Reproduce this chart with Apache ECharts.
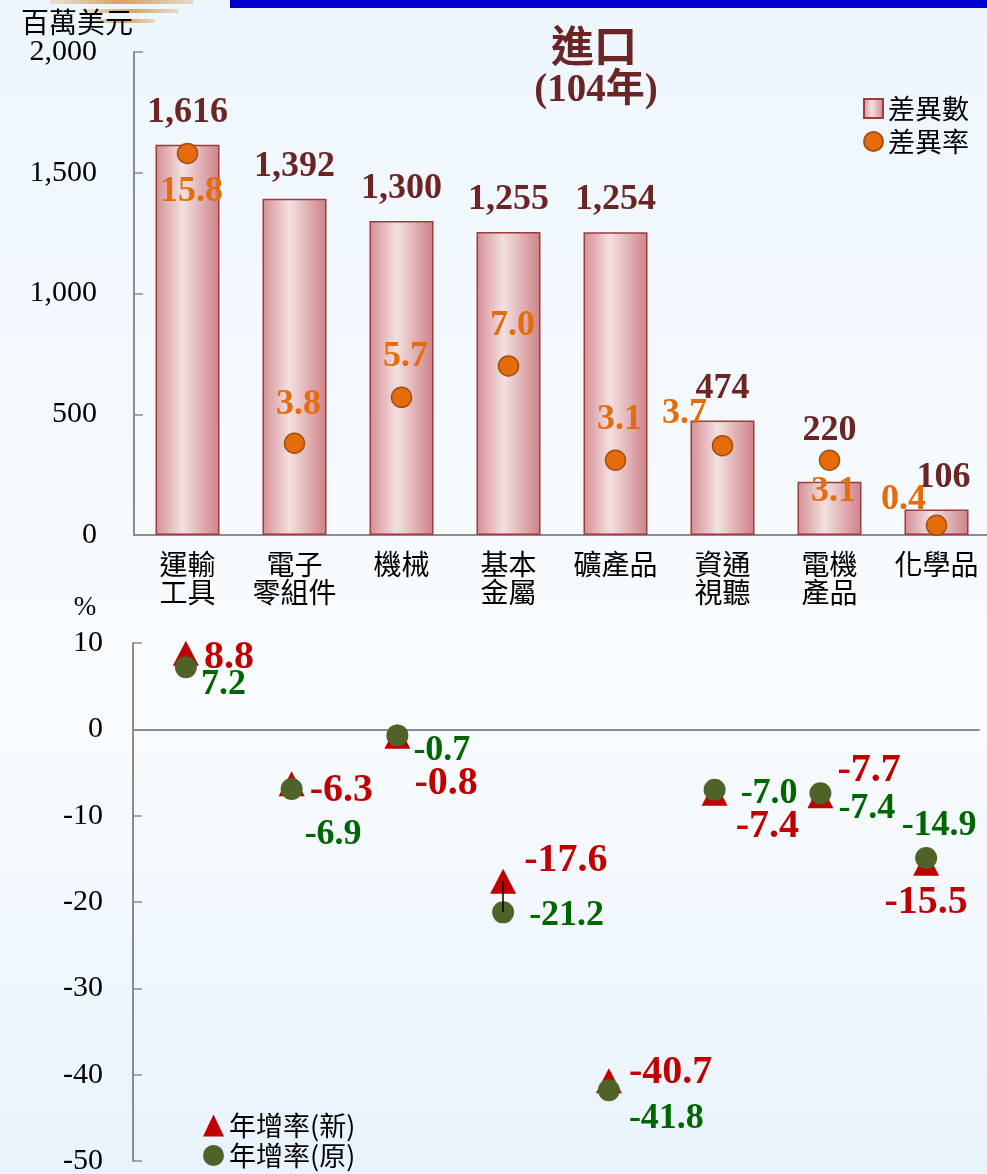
<!DOCTYPE html>
<html>
<head>
<meta charset="utf-8">
<title>進口 (104年)</title>
<script src="https://cdn.jsdelivr.net/npm/echarts@6/dist/echarts.min.js"></script>
<style>
  html, body { margin: 0; padding: 0; }
  #main { width: 987px; height: 1174px; }
</style>
</head>
<body>
<div id="main"></div>
<script>
// 產品類別
var categories = ['運輸\n工具', '電子\n零組件', '機械', '基本\n金屬', '礦產品', '資通\n視聽', '電機\n產品', '化學品'];
// 差異數 (百萬美元)
var diffAmount = [1616, 1392, 1300, 1255, 1254, 474, 220, 106];
// 差異率 (%)
var diffRate = [15.8, 3.8, 5.7, 7.0, 3.1, 3.7, 3.1, 0.4];
// 年增率(新) / 年增率(原) (%)
var growthNew = [8.8, -6.3, -0.8, -17.6, -40.7, -7.4, -7.7, -15.5];
var growthOld = [7.2, -6.9, -0.7, -21.2, -41.8, -7.0, -7.4, -14.9];

// 標籤位置微調 [dx, dy]，相對於點的中心
var rateLabelPos = [[4, 38], [4, -39], [4, -41], [4, -40], [4, -40], [-38, -32], [4, 32], [-33, -26]];
var newLabelPos = [[18, 4], [18, 7], [17, 47], [21, -21], [20, -8], [21, 33], [17, -25], [0, 40]];
var oldLabelPos = [[15, 18], [13, 46], [16, 15], [26, 3], [20, 28], [26, 4], [18, 15], [13, -32]];

var serif = "'Liberation Serif', 'Noto Sans CJK TC', serif";
var cjk = "'Noto Sans CJK TC', sans-serif";
var axisGray = '#8c8c8c';

var chart = echarts.init(document.getElementById('main'));

// 散點標籤：最後一個點與差異率置中，其餘靠左
function pointLabels(values, pos, color, size, centered) {
    return values.map(function (v, i) {
        return {
            value: v,
            label: {
                show: true,
                position: 'inside',
                align: (centered || i === values.length - 1) ? 'center' : 'left',
                verticalAlign: 'middle',
                offset: pos[i],
                color: color,
                fontSize: size,
                fontWeight: 'bold',
                fontFamily: serif,
                formatter: function (p) { return p.value.toFixed(1); }
            }
        };
    });
}

var barData = diffAmount.map(function (v, i) {
    var item = { value: v };
    if (i === 6) item.label = { offset: [0, -19] };
    if (i === 7) item.label = { offset: [7, 0] };
    return item;
});

var barGradient = new echarts.graphic.LinearGradient(0, 0, 1, 0, [
    { offset: 0, color: '#d48e95' },
    { offset: 0.42, color: '#f4e0e2' },
    { offset: 1, color: '#cd8287' }
]);

var stripe = function () {
    return new echarts.graphic.LinearGradient(0, 0, 1, 0, [
        { offset: 0, color: 'rgba(214,165,100,0.25)' },
        { offset: 0.5, color: '#d6a262' },
        { offset: 1, color: 'rgba(214,165,100,0.35)' }
    ]);
};

var option = {
    backgroundColor: new echarts.graphic.LinearGradient(0, 0, 0, 1, [
        { offset: 0, color: '#eef6fd' },
        { offset: 0.6, color: '#f9fcfe' },
        { offset: 1, color: '#e9f3fc' }
    ]),
    animation: false,
    graphic: [
        { type: 'rect', shape: { x: 230, y: 0, width: 757, height: 8 }, style: { fill: '#0000cc' } },
        { type: 'rect', shape: { x: 50, y: 0, width: 143, height: 4 }, style: { fill: stripe() } },
        { type: 'rect', shape: { x: 82, y: 9, width: 96, height: 4 }, style: { fill: stripe() } },
        { type: 'rect', shape: { x: 95, y: 19, width: 60, height: 4 }, style: { fill: stripe() } },
        { type: 'text', style: { text: '進口', x: 594, y: 46, fontSize: 43, fontWeight: 'bold', fontFamily: cjk, fill: '#6b2525', align: 'center', verticalAlign: 'middle' } },
        { type: 'text', style: { text: '(104年)', x: 596, y: 91, fontSize: 39, fontWeight: 'bold', fontFamily: serif, fill: '#6b2525', align: 'center', verticalAlign: 'middle' } },
        { type: 'text', style: { text: '百萬美元', x: 77, y: 22, fontSize: 28, fontFamily: cjk, fill: '#000', align: 'center', verticalAlign: 'middle' } },
        { type: 'text', style: { text: '%', x: 85, y: 608, fontSize: 27, fontFamily: serif, fill: '#000', align: 'center', verticalAlign: 'middle' } }
    ],
    legend: [{
        orient: 'vertical',
        left: 858,
        top: 90,
        itemWidth: 19,
        itemHeight: 19,
        itemGap: 6,
        textStyle: { fontSize: 27, fontFamily: cjk, color: '#000' },
        data: [{ name: '差異數', icon: 'rect' }, { name: '差異率', icon: 'circle' }]
    }, {
        orient: 'vertical',
        left: 198,
        top: 1107,
        itemWidth: 21,
        itemHeight: 22,
        itemGap: 3,
        textStyle: { fontSize: 27, fontFamily: cjk, color: '#000' },
        data: [{ name: '年增率(新)', icon: 'triangle' }, { name: '年增率(原)', icon: 'circle' }]
    }],
    grid: [
        { left: 134, top: 52, width: 856, height: 483, outerBoundsMode: 'none' },
        { left: 133, top: 643, width: 846, height: 518, outerBoundsMode: 'none' }
    ],
    xAxis: [{
        gridIndex: 0,
        type: 'category',
        data: categories,
        axisLine: { lineStyle: { color: axisGray, width: 2 } },
        axisTick: { inside: true, length: 9, lineStyle: { color: axisGray, width: 1.5 } },
        axisLabel: { interval: 0, fontSize: 28, lineHeight: 28, color: '#000', margin: 15, fontFamily: cjk }
    }, {
        gridIndex: 1,
        type: 'category',
        data: categories,
        axisLine: { onZero: true, lineStyle: { color: axisGray, width: 2 } },
        axisTick: { inside: true, length: 9, lineStyle: { color: axisGray, width: 1.5 } },
        axisLabel: { show: false }
    }],
    yAxis: [{
        gridIndex: 0,
        type: 'value',
        min: 0,
        max: 2000,
        interval: 500,
        splitLine: { show: false },
        axisLine: { show: true, lineStyle: { color: axisGray, width: 2 } },
        axisTick: { show: true, inside: true, length: 9, lineStyle: { color: axisGray, width: 1.5 } },
        axisLabel: {
            fontSize: 30, color: '#000', margin: 37, fontFamily: serif,
            formatter: function (v) { return v.toLocaleString('en-US'); }
        }
    }, {
        gridIndex: 0,
        type: 'value',
        min: 0,
        max: 20,
        show: false
    }, {
        gridIndex: 1,
        type: 'value',
        min: -50,
        max: 10,
        interval: 10,
        splitLine: { show: false },
        axisLine: { show: true, lineStyle: { color: axisGray, width: 2 } },
        axisTick: { show: true, inside: true, length: 9, lineStyle: { color: axisGray, width: 1.5 } },
        axisLabel: { fontSize: 30, color: '#000', margin: 30, fontFamily: serif }
    }],
    series: [{
        name: '差異數',
        type: 'bar',
        xAxisIndex: 0,
        yAxisIndex: 0,
        barWidth: 64,
        itemStyle: { color: barGradient, borderColor: '#9c3c3c', borderWidth: 1.5 },
        label: {
            show: true,
            position: 'top',
            distance: 14,
            color: '#6b2525',
            fontSize: 36,
            fontWeight: 'bold',
            fontFamily: serif,
            formatter: function (p) { return p.value.toLocaleString('en-US'); }
        },
        data: barData
    }, {
        name: '差異率',
        type: 'scatter',
        xAxisIndex: 0,
        yAxisIndex: 1,
        symbol: 'circle',
        symbolSize: 20,
        itemStyle: { color: '#e46c0a', borderColor: '#a14f10', borderWidth: 1.5, opacity: 1 },
        data: pointLabels(diffRate, rateLabelPos, '#e46c0a', 36, true)
    }, {
        name: '年增率(新)',
        type: 'scatter',
        xAxisIndex: 1,
        yAxisIndex: 2,
        symbol: 'triangle',
        symbolSize: [26, 25],
        itemStyle: { color: '#c00000', opacity: 1 },
        data: pointLabels(growthNew, newLabelPos, '#c00000', 40, false)
    }, {
        name: '年增率(原)',
        type: 'scatter',
        xAxisIndex: 1,
        yAxisIndex: 2,
        symbol: 'circle',
        symbolSize: 22,
        itemStyle: { color: '#4f6228', opacity: 1 },
        markLine: {
            silent: true,
            symbol: 'none',
            label: { show: false },
            lineStyle: { color: '#000', width: 1.5, type: 'solid' },
            data: [[{ coord: [3, growthNew[3]] }, { coord: [3, growthOld[3]] }]]
        },
        data: pointLabels(growthOld, oldLabelPos, '#006600', 36, false)
    }]
};

chart.setOption(option);
</script>
</body>
</html>
